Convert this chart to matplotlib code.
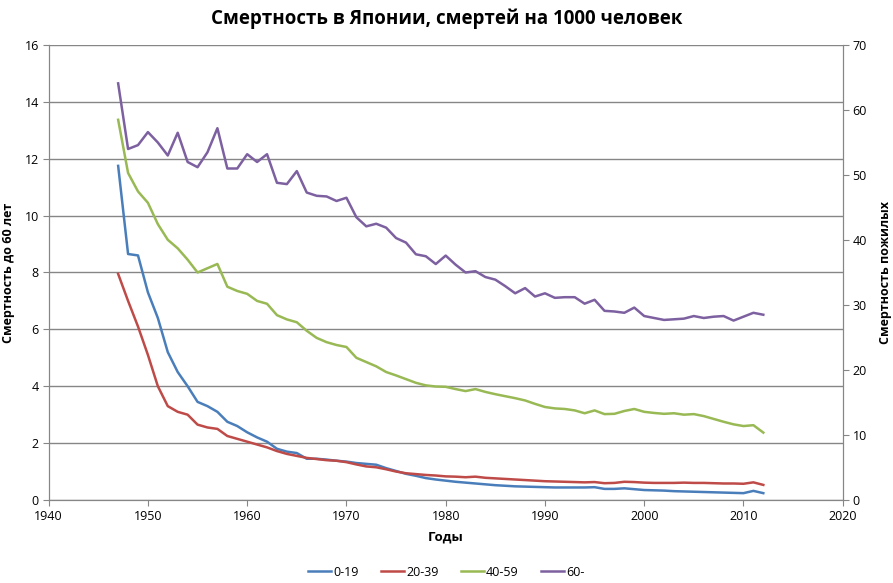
import numpy as np
import matplotlib
matplotlib.use("Agg")
import matplotlib.pyplot as plt

plt.rcParams['font.family'] = ['Open Sans', 'DejaVu Sans']

years = np.arange(1947, 2013)

# смертность 0-19, на 1000 человек
age_0_19 = [11.75, 8.65, 8.6, 7.3, 6.4, 5.2, 4.5, 4.0, 3.45, 3.3,
            3.1, 2.75, 2.6, 2.38, 2.2, 2.05, 1.8, 1.7, 1.65, 1.45,
            1.45, 1.42, 1.38, 1.35, 1.3, 1.27, 1.24, 1.12, 1.02, 0.92,
            0.85, 0.77, 0.72, 0.68, 0.64, 0.61, 0.58, 0.55, 0.52, 0.50,
            0.48, 0.47, 0.46, 0.45, 0.44, 0.44, 0.44, 0.44, 0.45, 0.39,
            0.39, 0.41, 0.38, 0.35, 0.34, 0.33, 0.31, 0.30, 0.29, 0.28,
            0.27, 0.26, 0.25, 0.24, 0.32, 0.24]

age_20_39 = [7.95, 7.0, 6.1, 5.1, 4.0, 3.3, 3.1, 3.0, 2.65, 2.55,
             2.5, 2.25, 2.15, 2.05, 1.95, 1.85, 1.72, 1.62, 1.55, 1.48,
             1.44, 1.40, 1.38, 1.33, 1.25, 1.18, 1.15, 1.08, 1.0, 0.94,
             0.91, 0.88, 0.86, 0.83, 0.82, 0.80, 0.82, 0.78, 0.76, 0.74,
             0.72, 0.70, 0.68, 0.66, 0.65, 0.64, 0.63, 0.62, 0.63, 0.59,
             0.60, 0.64, 0.63, 0.61, 0.60, 0.60, 0.60, 0.61, 0.60, 0.60,
             0.59, 0.58, 0.58, 0.57, 0.62, 0.53]

age_40_59 = [13.37, 11.5, 10.85, 10.45, 9.7, 9.15, 8.85, 8.45, 8.0, 8.15,
             8.3, 7.5, 7.35, 7.25, 7.0, 6.9, 6.5, 6.35, 6.25, 5.95,
             5.7, 5.55, 5.45, 5.38, 5.0, 4.85, 4.7, 4.5, 4.38, 4.25,
             4.12, 4.03, 3.99, 3.98, 3.9, 3.83, 3.9, 3.8, 3.72, 3.65,
             3.58, 3.5, 3.38, 3.27, 3.22, 3.2, 3.15, 3.05, 3.15, 3.02,
             3.03, 3.13, 3.2, 3.1, 3.06, 3.03, 3.05, 3.0, 3.02, 2.95,
             2.85, 2.75, 2.66, 2.6, 2.63, 2.37]

# 60 и старше - правая ось
age_60 = [64.1, 54.0, 54.6, 56.6, 55.0, 53.0, 56.5, 52.0, 51.2, 53.5,
          57.2, 51.0, 51.0, 53.2, 52.0, 53.2, 48.8, 48.6, 50.6, 47.3,
          46.8, 46.7, 46.0, 46.5, 43.5, 42.1, 42.5, 41.9, 40.3, 39.6,
          37.8, 37.5, 36.3, 37.6, 36.2, 35.0, 35.2, 34.3, 33.9, 32.9,
          31.8, 32.6, 31.3, 31.8, 31.1, 31.2, 31.2, 30.2, 30.8, 29.1,
          29.0, 28.8, 29.6, 28.3, 28.0, 27.7, 27.8, 27.9, 28.3, 28.0,
          28.2, 28.3, 27.6, 28.2, 28.8, 28.5]

colors = ['#4A7EBB', '#BE4B48', '#98B954', '#7D60A0']
grid_c = '#868686'

fig = plt.figure(figsize=(8.93, 5.83), dpi=100)
ax = fig.add_axes([0.0545, 0.1424, 0.8892, 0.7804])
ax2 = ax.twinx()

lines = []
for vals, c, lab in zip([age_0_19, age_20_39, age_40_59], colors[:3], ['0-19', '20-39', '40-59']):
    l, = ax.plot(years, vals, color=c, lw=1.8, label=lab, solid_joinstyle='round')
    lines.append(l)
l, = ax2.plot(years, age_60, color=colors[3], lw=1.8, label='60-', solid_joinstyle='round')
lines.append(l)

ax.set_xlim(1940, 2020)
ax.set_ylim(0, 16)
ax.set_yticks(range(0, 17, 2))
ax.set_xticks(range(1940, 2021, 10))
ax2.set_ylim(0, 70)
ax2.set_yticks(range(0, 71, 10))

ax.grid(axis='y', color=grid_c, lw=1)
ax.set_axisbelow(True)
for a in (ax, ax2):
    for s in a.spines.values():
        s.set_color(grid_c)
    a.spines['top'].set_visible(False)
    a.tick_params(colors=grid_c, labelcolor='black', labelsize=9, length=4, direction='out', pad=3)

ax.set_xlabel('Годы', fontsize=9.5, fontweight='bold')
ax.xaxis.set_label_coords(0.5, -0.068)
ax.set_ylabel('Смертность до 60 лет', fontsize=9, fontweight='bold')
ax.yaxis.set_label_coords(-0.043, 0.5)
ax2.set_ylabel('Смертность пожилых', fontsize=9, fontweight='bold')
ax2.yaxis.set_label_coords(1.046, 0.5)
fig.suptitle('Смертность в Японии, смертей на 1000 человек', fontsize=13.5, fontweight='bold', y=0.985)

fig.legend(handles=lines, loc='lower center', ncol=4, frameon=False, fontsize=9,
           bbox_to_anchor=(0.5, -0.012), handlelength=1.8, handletextpad=0.2, columnspacing=1.8)

fig.savefig('out.png', dpi=100)
